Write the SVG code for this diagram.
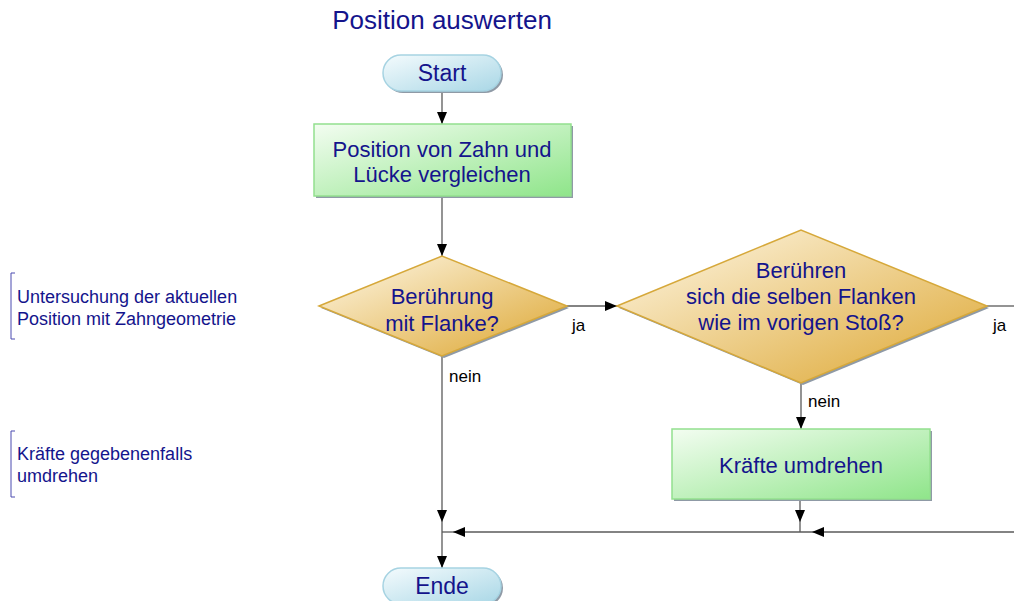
<svg xmlns="http://www.w3.org/2000/svg" width="1014" height="601" viewBox="0 0 1014 601">
<defs>
<linearGradient id="gPill" x1="0" y1="0" x2="1" y2="1">
<stop offset="0" stop-color="#f4fbfd"/><stop offset="1" stop-color="#a9d7e6"/>
</linearGradient>
<linearGradient id="gBox" x1="0" y1="0" x2="1" y2="1">
<stop offset="0" stop-color="#f3fdf1"/><stop offset="1" stop-color="#8fe58a"/>
</linearGradient>
<linearGradient id="gDia" x1="0" y1="0" x2="1" y2="1">
<stop offset="0.1" stop-color="#fbf0d6"/><stop offset="0.9" stop-color="#e0ae42"/>
</linearGradient>
<marker id="arr" markerWidth="12" markerHeight="10" refX="12" refY="5" orient="auto" markerUnits="userSpaceOnUse">
<path d="M0,0 L12,5 L0,10 Z" fill="#000"/>
</marker>
</defs>
<style>
text{font-family:"Liberation Sans",Arial,sans-serif}
.t{fill:#14148c;font-size:22px;text-anchor:middle}
.ann{fill:#14148c;font-size:18px}
.lbl{fill:#000;font-size:17px}
.pill{fill:url(#gPill);stroke:#a6d3e2;stroke-width:1.5}
.box{fill:url(#gBox);stroke:#93e08e;stroke-width:1.5}
.dia{fill:url(#gDia);stroke:#d6a83a;stroke-width:1.5}
.sh{fill:#8f9aa6}
.c{stroke:#5a5a5a;stroke-width:1.3;fill:none}
.br{stroke:#4a4ab0;stroke-width:1;fill:none}
</style>
<text x="442" y="29" style="fill:#14148c;font-size:26px;text-anchor:middle">Position auswerten</text>
<g id="ann1">
<path class="br" d="M15,273 H11 V339 H15"/>
<text class="ann" x="17" y="303">Untersuchung der aktuellen</text>
<text class="ann" x="17" y="325">Position mit Zahngeometrie</text>
</g>
<g id="ann2">
<path class="br" d="M15,431 H11 V497 H15"/>
<text class="ann" x="17" y="460">Kräfte gegebenenfalls</text>
<text class="ann" x="17" y="482">umdrehen</text>
</g>
<g id="connectors">
<line class="c" x1="442" y1="91" x2="442" y2="124" marker-end="url(#arr)"/>
<line class="c" x1="442" y1="196" x2="442" y2="256" marker-end="url(#arr)"/>
<line class="c" x1="567" y1="306" x2="617" y2="306" marker-end="url(#arr)"/>
<line class="c" x1="987" y1="306" x2="1014" y2="306"/>
<line class="c" x1="801" y1="383" x2="801" y2="429" marker-end="url(#arr)"/>
<line class="c" x1="442" y1="356" x2="442" y2="522" marker-end="url(#arr)"/>
<line class="c" x1="800" y1="499" x2="800" y2="522" marker-end="url(#arr)"/>
<line class="c" x1="800" y1="522" x2="800" y2="532"/>
<line class="c" x1="1014" y1="532" x2="812" y2="532" marker-end="url(#arr)"/>
<line class="c" x1="812" y1="532" x2="453" y2="532" marker-end="url(#arr)"/>
<line class="c" x1="453" y1="532" x2="442" y2="532"/>
<line class="c" x1="442" y1="522" x2="442" y2="568" marker-end="url(#arr)"/>
<text class="lbl" x="572" y="331">ja</text>
<text class="lbl" x="993" y="331">ja</text>
<text class="lbl" x="449" y="382">nein</text>
<text class="lbl" x="808" y="407">nein</text>
</g>
<g id="start">
<rect class="sh" x="385" y="57" width="118" height="36" rx="18"/>
<rect class="pill" x="383" y="55" width="118" height="36" rx="18"/>
<text class="t" x="442" y="81" style="font-size:23px">Start</text>
</g>
<g id="box1">
<rect class="sh" x="316" y="126" width="257" height="72"/>
<rect class="box" x="314" y="124" width="257" height="72"/>
<text class="t" x="442" y="157">Position von Zahn und</text>
<text class="t" x="442" y="182">Lücke vergleichen</text>
</g>
<g id="dec1">
<polygon class="sh" points="321,308 444,258 569,308 444,358"/>
<polygon class="dia" points="319,306 442,256 567,306 442,356"/>
<text class="t" x="442" y="304">Berührung</text>
<text class="t" x="442" y="331">mit Flanke?</text>
</g>
<g id="dec2">
<polygon class="sh" points="619,308 803,232 989,308 803,385"/>
<polygon class="dia" points="617,306 801,230 987,306 801,383"/>
<text class="t" x="801" y="278">Berühren</text>
<text class="t" x="801" y="304">sich die selben Flanken</text>
<text class="t" x="801" y="330">wie im vorigen Stoß?</text>
</g>
<g id="box2">
<rect class="sh" x="674" y="431" width="258" height="70"/>
<rect class="box" x="672" y="429" width="258" height="70"/>
<text class="t" x="801" y="473">Kräfte umdrehen</text>
</g>
<g id="ende">
<rect class="sh" x="385" y="570" width="118" height="36" rx="18"/>
<rect class="pill" x="383" y="568" width="118" height="36" rx="18"/>
<text class="t" x="442" y="594" style="font-size:23px">Ende</text>
</g>
</svg>
